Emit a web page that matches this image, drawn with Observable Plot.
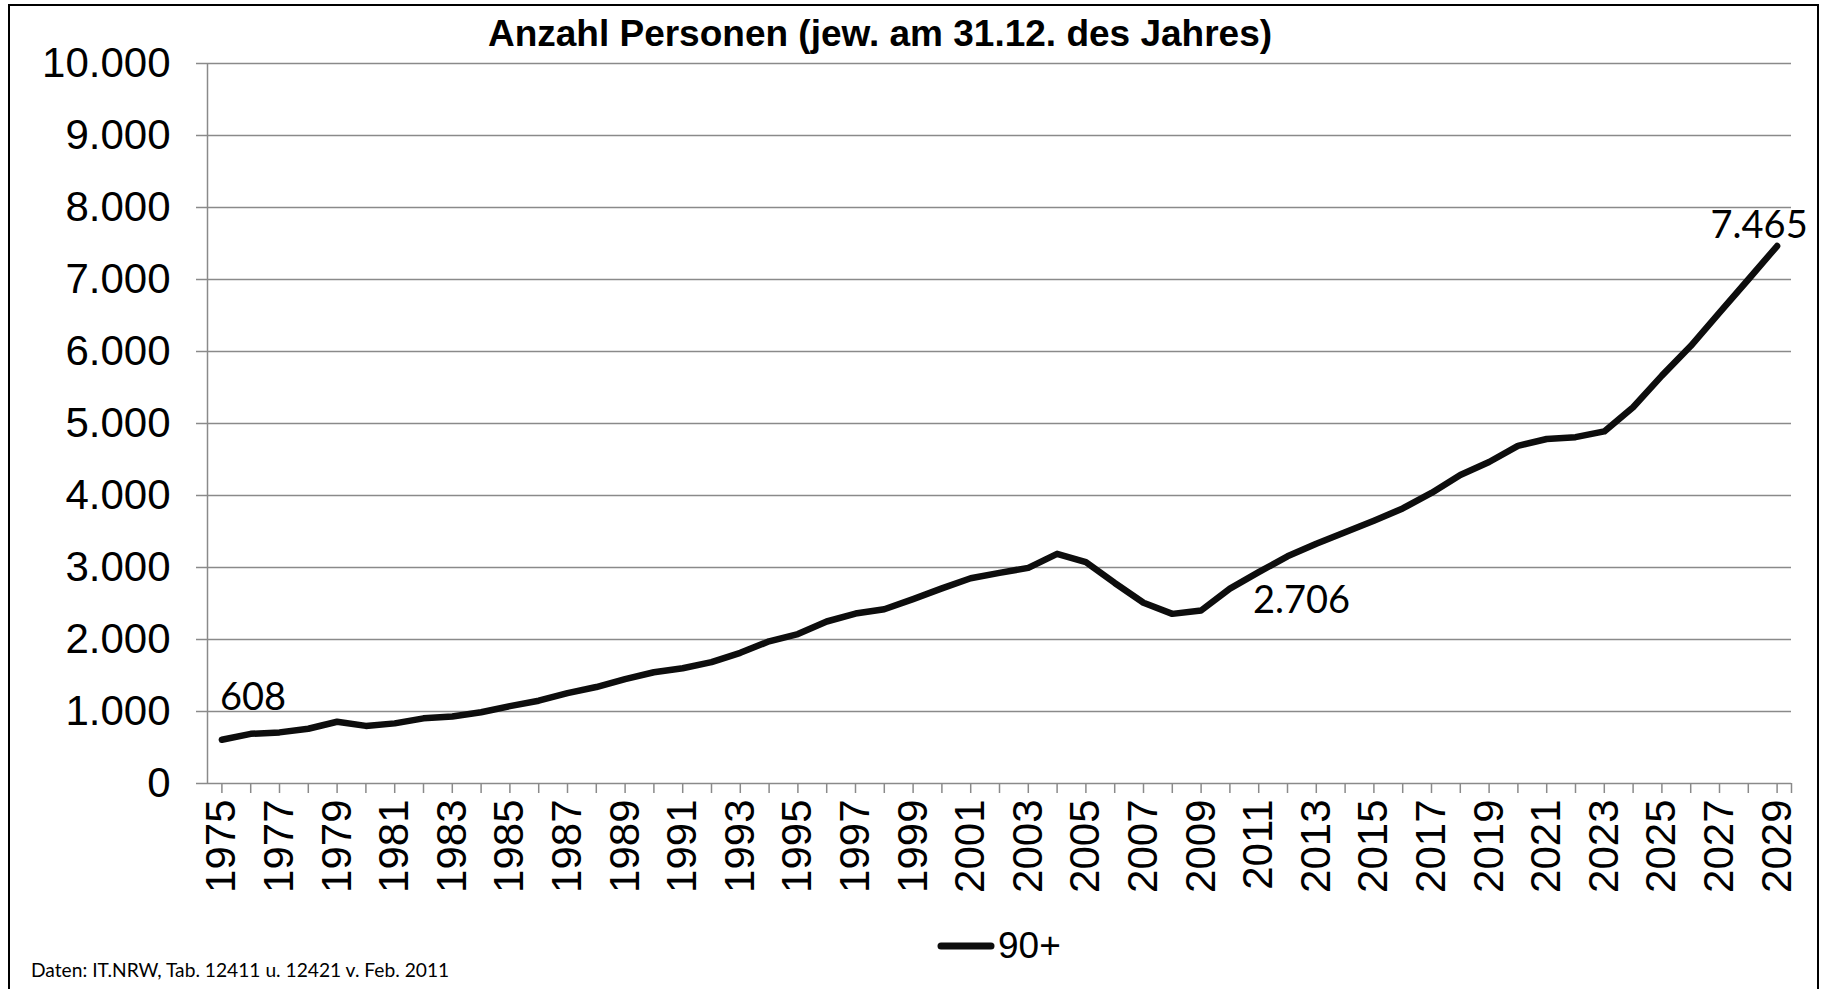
<!DOCTYPE html>
<html>
<head>
<meta charset="utf-8">
<script src="https://cdn.jsdelivr.net/npm/d3@7"></script>
<script src="https://cdn.jsdelivr.net/npm/@observablehq/plot@0.6"></script>
<style>
  html, body { margin: 0; padding: 0; background: #fff; }
  #wrap { position: relative; width: 1823px; height: 989px; overflow: hidden; background: #fff; }
  #frame { position: absolute; left: 8px; top: 4px; width: 1811px; height: 1010px; border: 2px solid #000; box-sizing: border-box; }
  #chart { position: absolute; left: 0; top: 0; }
  #title { position: absolute; left: 280px; width: 1200px; top: 15px; text-align: center;
           font: bold 37px/1 "Liberation Sans", Arial, sans-serif; color: #000; white-space: nowrap; }
  #legend { position: absolute; left: 935px; top: 927px; height: 40px; display: flex; align-items: flex-start;
            font: 37px/1 "Liberation Sans", Arial, sans-serif; color: #000; white-space: nowrap; }
  #legend svg { display: block; margin-top: 13px; margin-right: 1px; }
  #caption { position: absolute; left: 31px; top: 960px; font: 19.2px/1 Lato, "Noto Sans", sans-serif; color: #000; white-space: nowrap; }
</style>
</head>
<body>
<div id="wrap">
  <div id="frame"></div>
  <div id="chart"></div>
  <div id="title"></div>
  <div id="legend"></div>
  <div id="caption"></div>
</div>
<script>
// ---- data ----
const titleText = "Anzahl Personen (jew. am 31.12. des Jahres)";
const seriesName = "90+";
const captionText = "Daten: IT.NRW, Tab. 12411 u. 12421 v. Feb. 2011";

const years = [1975,1976,1977,1978,1979,1980,1981,1982,1983,1984,1985,1986,1987,1988,1989,1990,1991,1992,1993,1994,1995,1996,1997,1998,1999,2000,2001,2002,2003,2004,2005,2006,2007,2008,2009,2010,2011,2012,2013,2014,2015,2016,2017,2018,2019,2020,2021,2022,2023,2024,2025,2026,2027,2028,2029];
const values = [608,690,710,760,858,800,835,905,930,990,1075,1150,1255,1340,1450,1545,1600,1685,1815,1975,2075,2250,2360,2420,2560,2710,2850,2925,2995,3190,3075,2785,2510,2356,2403,2706,2935,3155,3330,3490,3650,3820,4035,4285,4465,4690,4785,4810,4890,5225,5665,6075,6540,7000,7465];
const yTicks = [0,1000,2000,3000,4000,5000,6000,7000,8000,9000,10000];
const xLabelYears = [1975,1977,1979,1981,1983,1985,1987,1989,1991,1993,1995,1997,1999,2001,2003,2005,2007,2009,2011,2013,2015,2017,2019,2021,2023,2025,2027,2029];
const labelledYears = [1975, 2010, 2029];

// ---- build ----
const data = years.map((year, i) => ({year, value: values[i]}));
const de = d3.formatLocale({decimal: ",", thousands: ".", grouping: [3], currency: ["", " €"]});
const fmt = de.format(",");
const pick = y => data.filter(d => d.year === y);

const grey = "#8a8a8a";
const xDomain = [years[0] - 0.5, years[years.length - 1] + 0.5];

const chart = Plot.plot({
  width: 1823,
  height: 989,
  marginLeft: 207,
  marginRight: 32,
  marginTop: 63,
  marginBottom: 206,
  style: {fontFamily: '"Liberation Sans", Arial, sans-serif', background: "transparent", overflow: "visible", color: "#000"},
  x: {type: "linear", domain: xDomain},
  y: {type: "linear", domain: [0, 10000]},
  marks: [
    Plot.gridY({ticks: yTicks, stroke: grey, strokeOpacity: 1, strokeWidth: 1.5}),
    Plot.ruleX([xDomain[0]], {stroke: grey, strokeWidth: 1.5}),
    Plot.axisY({ticks: yTicks, tickSize: 11, tickPadding: 26, fontSize: 42, stroke: grey, strokeWidth: 1.5, tickFormat: fmt, label: null}),
    Plot.axisX({ticks: [...years, xDomain[1]], tickSize: 10, stroke: grey, strokeWidth: 1.5, tickFormat: () => "", label: null}),
    Plot.axisX({ticks: xLabelYears, tickSize: 0, tickPadding: 16, tickRotate: -90, fontSize: 42, tickFormat: d => String(d), label: null}),
    Plot.line(data, {x: "year", y: "value", stroke: "#0d0d0d", strokeWidth: 6.5, strokeLinejoin: "round", strokeLinecap: "round"}),
    Plot.text(pick(labelledYears[0]), {x: "year", y: "value", text: d => fmt(d.value), textAnchor: "start", lineAnchor: "bottom", dx: -2, dy: -30, fontSize: 38, fontFamily: "Lato", fill: "#000"}),
    Plot.text(pick(labelledYears[1]), {x: "year", y: "value", text: d => fmt(d.value), textAnchor: "start", lineAnchor: "bottom", dx: 23, dy: 24, fontSize: 38, fontFamily: "Lato", fill: "#000"}),
    Plot.text(pick(labelledYears[2]), {x: "year", y: "value", text: d => fmt(d.value), textAnchor: "middle", lineAnchor: "bottom", dx: -18, dy: -8, fontSize: 38, fontFamily: "Lato", fill: "#000"})
  ]
});
document.getElementById("chart").appendChild(chart);

document.getElementById("title").textContent = titleText;
document.getElementById("caption").textContent = captionText;

const legend = document.getElementById("legend");
const sw = d3.create("svg").attr("width", 62).attr("height", 12);
sw.append("line").attr("x1", 6).attr("x2", 56).attr("y1", 6).attr("y2", 6)
  .attr("stroke", "#0d0d0d").attr("stroke-width", 7).attr("stroke-linecap", "round");
legend.appendChild(sw.node());
const lt = document.createElement("span");
lt.textContent = seriesName;
legend.appendChild(lt);
</script>
</body>
</html>
